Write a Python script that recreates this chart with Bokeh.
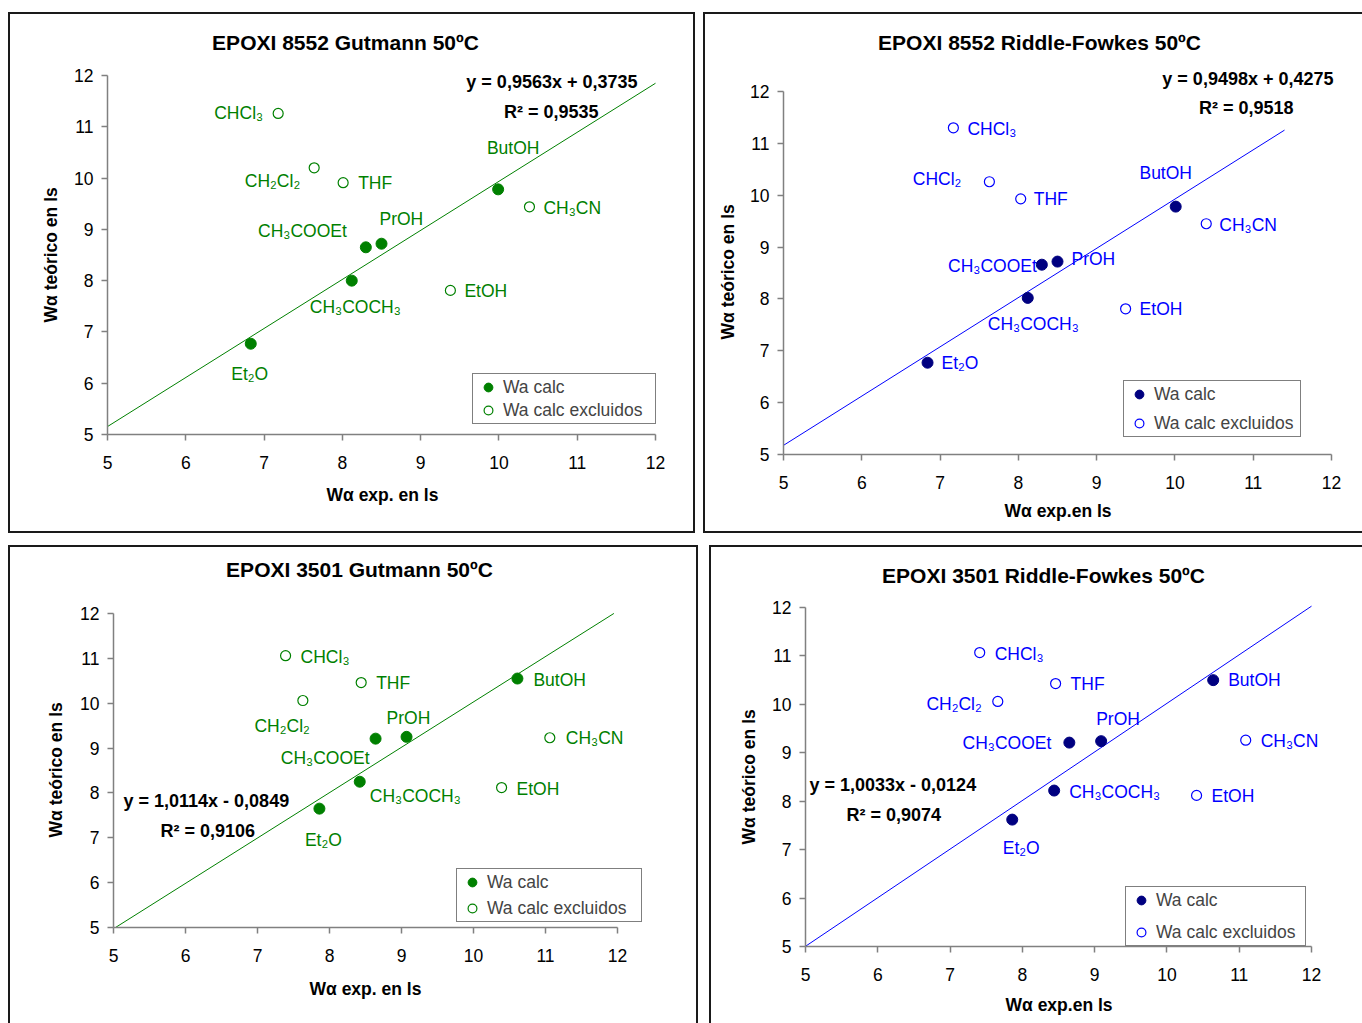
from bokeh.plotting import figure
from bokeh.models import (Range1d, FixedTicker, ColumnDataSource, Legend, LegendItem,
                          Spacer, Title)
from bokeh.layouts import column, row
from bokeh.core.properties import value, field
from bokeh.embed import file_html
from bokeh.resources import INLINE

# ------------------------------------------------------------------ data
incl_names = ["Et₂O", "CH₃COCH₃", "CH₃COOEt", "PrOH", "ButOH"]
excl_names = ["CHCl₃", "CH₂Cl₂", "THF", "CH₃CN", "EtOH"]
excl_names_rf8552 = ["CHCl₃", "CHCl₂", "THF", "CH₃CN", "EtOH"]

# EPOXI 8552 Gutmann
g8552_in_x = [6.83, 8.12, 8.30, 8.50, 9.99]
g8552_in_y = [6.77, 8.00, 8.65, 8.72, 9.78]
g8552_ex_x = [7.18, 7.64, 8.01, 10.39, 9.38]
g8552_ex_y = [11.26, 10.20, 9.91, 9.44, 7.81]
# EPOXI 8552 Riddle-Fowkes
rf8552_in_x = [6.84, 8.12, 8.30, 8.50, 10.01]
rf8552_in_y = [6.77, 8.02, 8.66, 8.72, 9.78]
rf8552_ex_x = [7.17, 7.63, 8.03, 10.40, 9.37]
rf8552_ex_y = [11.30, 10.26, 9.93, 9.45, 7.81]
# EPOXI 3501 Gutmann
g3501_in_x = [7.86, 8.42, 8.64, 9.07, 10.61]
g3501_in_y = [7.65, 8.25, 9.21, 9.25, 10.55]
g3501_ex_x = [7.39, 7.63, 8.44, 11.06, 10.39]
g3501_ex_y = [11.06, 10.06, 10.46, 9.23, 8.12]
# EPOXI 3501 Riddle-Fowkes
rf3501_in_x = [7.86, 8.44, 8.65, 9.09, 10.64]
rf3501_in_y = [7.62, 8.22, 9.21, 9.24, 10.50]
rf3501_ex_x = [7.41, 7.66, 8.46, 11.09, 10.41]
rf3501_ex_y = [11.07, 10.06, 10.43, 9.26, 8.12]

titles = ["EPOXI 8552 Gutmann 50ºC", "EPOXI 8552 Riddle-Fowkes 50ºC",
          "EPOXI 3501 Gutmann 50ºC", "EPOXI 3501 Riddle-Fowkes 50ºC"]
equations = ["y = 0,9563x + 0,3735", "y = 0,9498x + 0,4275",
             "y = 1,0114x - 0,0849", "y = 1,0033x - 0,0124"]
r2_texts = ["R² = 0,9535", "R² = 0,9518", "R² = 0,9106", "R² = 0,9074"]
trend_slope = [0.9563, 0.9498, 1.0114, 1.0033]
trend_intercept = [0.3735, 0.4275, -0.0849, -0.0124]
trend_x = [[5.0, 12.0], [5.0, 11.4], [5.0, 11.95], [5.0, 12.0]]
x_labels = ["Wα exp. en ls", "Wα exp.en ls", "Wα exp. en ls", "Wα exp.en ls"]
y_label = "Wα teórico en ls"
legend_labels = ["Wa calc", "Wa calc excluidos"]
ticks = [5, 6, 7, 8, 9, 10, 11, 12]

# ------------------------------------------------------------------ styles / layout
GREEN = "#008000"
NAVY = "#000080"
BLUE = "#0000FF"
FONT = "Liberation Sans"
BORDER_COLOR = "#1a1a1a"
BW = 2  # border width

# canvas = (left, top, width, height) on the page; cal = pixel positions of 5/12 on x and 12/5 on y
# xlab_left: page x where the x-axis title starts; ylab_bottom: page y where the y-axis title starts
panels = [
    dict(in_x=g8552_in_x, in_y=g8552_in_y, ex_x=g8552_ex_x, ex_y=g8552_ex_y,
         ex_names=excl_names, fill=GREEN, open=GREEN, txt=GREEN, line=GREEN,
         canvas=(10, 14, 683, 517), cal=(107, 655, 75, 434),
         borders=dict(top=True, left=True, right=True, bottom=True),
         title_px=(345, 42), eq_px=(637, 81), r2_px=(598, 111), eq_align="right",
         xlab_left=326, ylab_bottom=322, xstand=22, ystand=22,
         legend_loc=(365, 10), legend_spacing=1, legend_lw=150,
         offsets=[(-1, 30, "center"), (-42, 26, "left"), (-19, -16, "right"),
                  (-2, -25, "left"), (15, -41, "center"),
                  (-15, 0, "right"), (-14, 13, "right"), (15, 0, "left"),
                  (14, 1, "left"), (14, 1, "left")]),
    dict(in_x=rf8552_in_x, in_y=rf8552_in_y, ex_x=rf8552_ex_x, ex_y=rf8552_ex_y,
         ex_names=excl_names_rf8552, fill=NAVY, open=BLUE, txt=BLUE, line=BLUE,
         canvas=(705, 14, 657, 517), cal=(783, 1331, 91, 454),
         borders=dict(top=True, left=True, right=False, bottom=True),
         title_px=(1039, 42), eq_px=(1333, 78), r2_px=(1293, 107), eq_align="right",
         xlab_left=1004, ylab_bottom=339, xstand=15, ystand=20,
         legend_loc=(340, 17), legend_spacing=7, legend_lw=144,
         offsets=[(14, 0, "left"), (-40, 26, "left"), (-5, 1, "right"),
                  (14, -3, "left"), (-10, -34, "center"),
                  (14, 1, "left"), (-28, -3, "right"), (13, 0, "left"),
                  (13, 1, "left"), (14, 0, "left")]),
    dict(in_x=g3501_in_x, in_y=g3501_in_y, ex_x=g3501_ex_x, ex_y=g3501_ex_y,
         ex_names=excl_names, fill=GREEN, open=GREEN, txt=GREEN, line=GREEN,
         canvas=(10, 547, 686, 476), cal=(113, 617, 613, 927),
         borders=dict(top=True, left=True, right=True, bottom=False),
         title_px=(359, 569), eq_px=(123, 800), r2_px=(160, 830), eq_align="left",
         xlab_left=309, ylab_bottom=837, xstand=24, ystand=23,
         legend_loc=(343, 5), legend_spacing=4, legend_lw=152,
         offsets=[(4, 31, "center"), (10, 14, "left"), (-6, 19, "right"),
                  (-20, -19, "left"), (16, 1, "left"),
                  (15, 1, "left"), (7, 25, "right"), (15, 0, "left"),
                  (16, 0, "left"), (15, 1, "left")]),
    dict(in_x=rf3501_in_x, in_y=rf3501_in_y, ex_x=rf3501_ex_x, ex_y=rf3501_ex_y,
         ex_names=excl_names, fill=NAVY, open=BLUE, txt=BLUE, line=BLUE,
         canvas=(711, 547, 651, 476), cal=(805, 1311, 607, 946),
         borders=dict(top=True, left=True, right=False, bottom=False),
         title_px=(1043, 575), eq_px=(809, 784), r2_px=(846, 814), eq_align="left",
         xlab_left=1005, ylab_bottom=844, xstand=18, ystand=22,
         legend_loc=(320, 0), legend_spacing=10, legend_lw=147,
         offsets=[(9, 28, "center"), (15, 1, "left"), (-18, 0, "right"),
                  (-5, -22, "left"), (15, 0, "left"),
                  (15, 1, "left"), (-16, 3, "right"), (15, 0, "left"),
                  (15, 1, "left"), (15, 1, "left")]),
]


def make_panel(i, d):
    cl, ct, W, H = d["canvas"]
    x5, x12, y12, y5 = d["cal"]
    kx = 7.0 / (x12 - x5)
    ky = 7.0 / (y5 - y12)

    def to_data(px, py):
        return 5 + (px - x5) * kx, 5 + (y5 - py) * ky

    x_end = 5 + (cl + W - x5) * kx
    y_end = 5 + (y5 - ct) * ky
    p = figure(width=W, height=H, x_range=Range1d(5, x_end), y_range=Range1d(5, y_end),
               output_backend="svg", toolbar_location=None,
               min_border_left=x5 - cl, min_border_bottom=ct + H - y5,
               min_border_top=0, min_border_right=0)
    p.frame_align = False
    p.outline_line_color = None
    p.xgrid.visible = False
    p.ygrid.visible = False
    p.background_fill_color = "white"
    p.border_fill_color = "white"

    for ax in (p.xaxis[0], p.yaxis[0]):
        ax.ticker = FixedTicker(ticks=ticks)
        ax.bounds = (5, 12)
        ax.axis_line_color = "#808080"
        ax.axis_line_width = 1.5
        ax.major_tick_line_color = "#808080"
        ax.major_tick_line_width = 1.5
        ax.major_tick_out = 6
        ax.major_tick_in = 0
        ax.minor_tick_out = 0
        ax.minor_tick_in = 0
        ax.major_label_text_font = FONT
        ax.major_label_text_font_size = "17.5px"
        ax.major_label_text_color = "black"
    p.xaxis[0].major_label_standoff = 15
    p.yaxis[0].major_label_standoff = 8

    # axis titles, placed along the 5..12 axis span (the frame is wider than the axis)
    p.add_layout(Title(text=x_labels[i], align="left", offset=d["xlab_left"] - x5,
                       standoff=d["xstand"], text_font=FONT, text_font_size="17.5px",
                       text_font_style="bold", text_color="black"), "below")
    p.add_layout(Title(text=y_label, align="left", offset=y5 - d["ylab_bottom"],
                       standoff=d["ystand"], text_font=FONT, text_font_size="17.5px",
                       text_font_style="bold", text_color="black"), "left")

    # trend line
    tx = trend_x[i]
    ty = [trend_slope[i] * v + trend_intercept[i] for v in tx]
    p.line(tx, ty, line_color=d["line"], line_width=1)

    r_in = p.scatter(d["in_x"], d["in_y"], marker="circle", size=11,
                     fill_color=d["fill"], line_color=d["fill"])
    r_ex = p.scatter(d["ex_x"], d["ex_y"], marker="circle", size=10,
                     fill_color="white", line_color=d["open"], line_width=1.2)

    names = incl_names + d["ex_names"]
    xs = d["in_x"] + d["ex_x"]
    ys = d["in_y"] + d["ex_y"]
    src = ColumnDataSource(dict(x=xs, y=ys, t=names,
                                dx=[o[0] for o in d["offsets"]],
                                dy=[o[1] for o in d["offsets"]],
                                al=[o[2] for o in d["offsets"]]))
    p.text(x="x", y="y", text="t", source=src, x_offset=field("dx"), y_offset=field("dy"),
           text_align=field("al"), text_baseline="middle", text_color=d["txt"],
           text_font=value(FONT), text_font_size=value("17.5px"))

    # chart title
    tx_, ty_ = to_data(*d["title_px"])
    p.text(x=[tx_], y=[ty_], text=[titles[i]], text_align="center", text_baseline="middle",
           text_font=value(FONT), text_font_size=value("21px"), text_font_style="bold",
           text_color="black")
    # equation and R²
    ex_, ey_ = to_data(*d["eq_px"])
    rx_, ry_ = to_data(*d["r2_px"])
    p.text(x=[ex_, rx_], y=[ey_, ry_], text=[equations[i], r2_texts[i]],
           text_align=d["eq_align"], text_baseline="middle",
           text_font=value(FONT), text_font_size=value("18px"), text_font_style="bold",
           text_color="black")

    legend = Legend(items=[LegendItem(label=legend_labels[0], renderers=[r_in]),
                           LegendItem(label=legend_labels[1], renderers=[r_ex])],
                    location=d["legend_loc"], margin=0, padding=2,
                    spacing=d["legend_spacing"], glyph_width=26, glyph_height=22,
                    label_height=20, label_width=d["legend_lw"], label_standoff=2,
                    label_text_font=FONT, label_text_font_size="17.5px",
                    border_line_color="black", border_line_width=1.2,
                    background_fill_color="white", background_fill_alpha=1.0)
    p.add_layout(legend)

    # chart-area border made of thin dark spacers around the figure
    b = d["borders"]
    bg = {"background-color": BORDER_COLOR}
    outer_w = W + (BW if b["left"] else 0) + (BW if b["right"] else 0)
    mid = []
    if b["left"]:
        mid.append(Spacer(width=BW, height=H, styles=bg))
    mid.append(p)
    if b["right"]:
        mid.append(Spacer(width=BW, height=H, styles=bg))
    parts = []
    if b["top"]:
        parts.append(Spacer(width=outer_w, height=BW, styles=bg))
    parts.append(row(*mid))
    if b["bottom"]:
        parts.append(Spacer(width=outer_w, height=BW, styles=bg))
    return column(*parts)


boxes = [make_panel(i, d) for i, d in enumerate(panels)]

layout = column(
    Spacer(height=12),
    row(Spacer(width=8), boxes[0], Spacer(width=8), boxes[1]),
    Spacer(height=12),
    row(Spacer(width=8), boxes[2], Spacer(width=11), boxes[3]),
)

open("out.html", "w").write(file_html(layout, INLINE))
